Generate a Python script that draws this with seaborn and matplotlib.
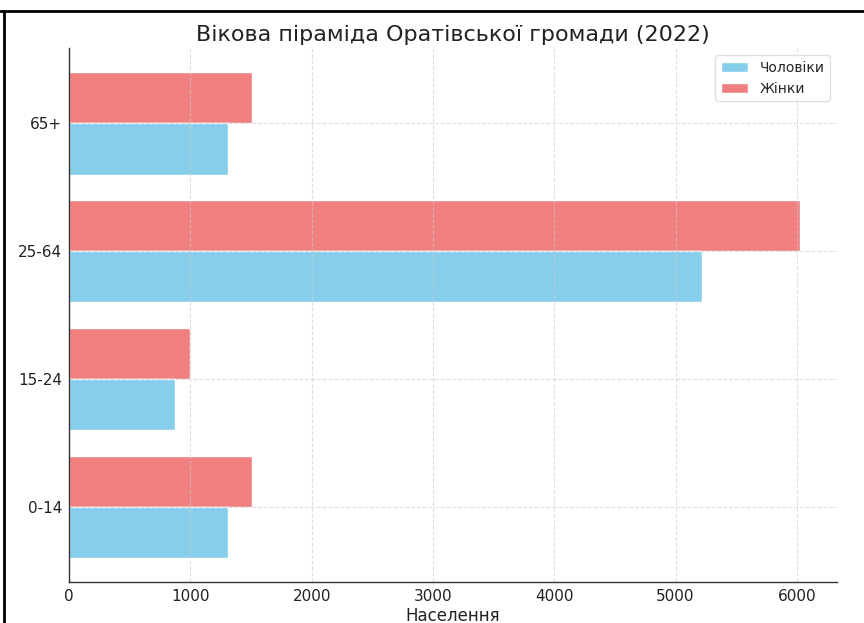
import matplotlib
matplotlib.use("Agg")
import matplotlib.pyplot as plt
import pandas as pd
import seaborn as sns
from matplotlib.lines import Line2D

# age groups, listed top to bottom as in the chart
age_groups = ['65+', '25-64', '15-24', '0-14']
men = [1310, 5220, 870, 1310]
women = [1510, 6030, 1000, 1510]

men_label = 'Чоловіки'
women_label = 'Жінки'

df = pd.DataFrame({
    'age': age_groups * 2,
    'sex': [men_label] * len(age_groups) + [women_label] * len(age_groups),
    'value': men + women,
})

sns.set_style("white")
plt.rcParams['font.family'] = ['DejaVu Sans']

fig = plt.figure(figsize=(8.64, 6.23), dpi=100)
ax = fig.add_axes([0.0799, 0.0658, 0.8889, 0.857])

# women first so they sit above men within each group
sns.barplot(
    data=df, y='age', x='value', hue='sex',
    order=age_groups, hue_order=[women_label, men_label],
    palette={men_label: 'skyblue', women_label: 'lightcoral'},
    saturation=1, width=0.8, orient='h', ax=ax,
)

ax.set_ylim(len(age_groups) - 1 + 0.59, -0.59)
ax.set_xlim(0, max(women) * 1.05)

ax.grid(True, linestyle='--', color='#cccccc', linewidth=0.8, alpha=0.6)
ax.set_axisbelow(False)

for side in ['top', 'right']:
    ax.spines[side].set_visible(False)
for side in ['left', 'bottom']:
    ax.spines[side].set_color('#333333')
    ax.spines[side].set_linewidth(1.0)
    ax.spines[side].set_zorder(4)

ax.tick_params(axis='x', direction='in', length=3, labelsize=11, colors='#333333', pad=5)
ax.tick_params(axis='y', direction='out', length=3, labelsize=11, colors='#333333', pad=2)
ax.tick_params(axis='both', labelcolor='#222222')

ax.set_title('Вікова піраміда Оратівської громади (2022)', fontsize=16, color='#222222', pad=5)
ax.set_xlabel('Населення', fontsize=12, color='#222222', labelpad=2)
ax.set_ylabel('')

handles, labels = ax.get_legend_handles_labels()
order = [labels.index(men_label), labels.index(women_label)]
ax.legend([handles[i] for i in order], [labels[i] for i in order],
          loc='upper right', fontsize=10, frameon=True, framealpha=0.9,
          edgecolor='#dddddd')

# frame edges from the screenshot
fig.add_artist(Line2D([0, 1], [0.9823, 0.9823], transform=fig.transFigure, color='black', linewidth=2))
fig.add_artist(Line2D([0.0046, 0.0046], [0, 0.9823], transform=fig.transFigure, color='black', linewidth=2))

fig.savefig('out.png', dpi=100)
